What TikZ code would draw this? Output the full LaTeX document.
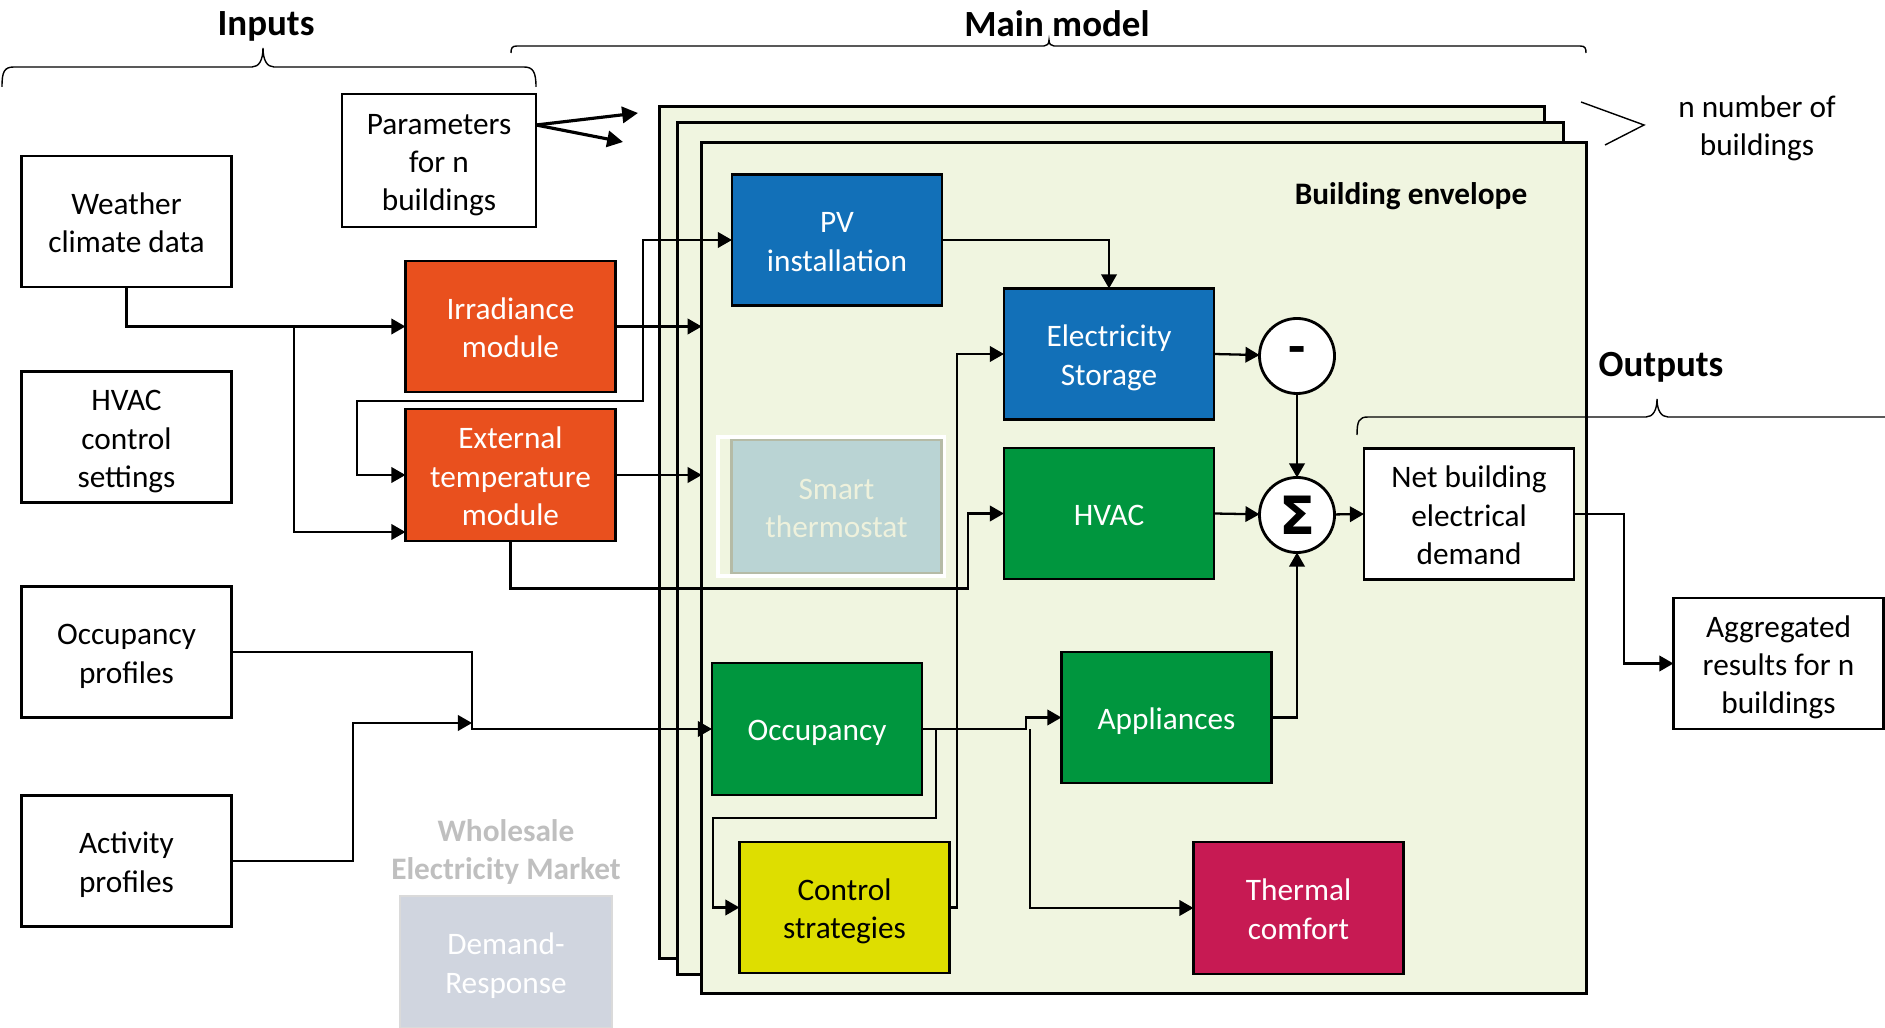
\documentclass[tikz,border=0pt]{standalone}
\usepackage{fontspec}
\setmainfont{Carlito}
\newfontfamily\dejavu{DejaVu Sans}
\usetikzlibrary{arrows.meta,calc}
\definecolor{corange}{RGB}{233,80,30}
\definecolor{cblue}{RGB}{18,112,184}
\definecolor{cgreen}{RGB}{0,150,62}
\definecolor{cyellow}{RGB}{222,222,0}
\definecolor{ccrimson}{RGB}{199,26,83}
\definecolor{cframe}{RGB}{240,245,224}
\definecolor{cthermo}{RGB}{186,212,212}
\definecolor{cthermob}{RGB}{181,187,166}
\definecolor{cthermot}{RGB}{238,241,220}
\definecolor{cdr}{RGB}{208,213,223}
\definecolor{cdrb}{RGB}{218,218,218}
\definecolor{cgraytext}{RGB}{191,191,191}
\newcommand{\bodyfont}{\fontsize{8.9}{10.9}\selectfont}
\newcommand{\titlefont}{\fontsize{10.5}{12}\selectfont\bfseries}
\newcommand{\lastlinestrut}{\rule[-2.4pt]{0pt}{2.4pt}}
\newcommand{\onelinestrut}{\rule[-2.4pt]{0pt}{11.4pt}}
\newcommand{\fs}{\rule{0pt}{9.3pt}}
\begin{document}
\begin{tikzpicture}[x=0.01cm,y=-0.01cm,
  boxbase/.style={draw, line width=0.8pt, minimum width=2.1cm, minimum height=1.31cm,
    align=center, inner sep=1pt, outer sep=0pt, font=\bodyfont},
  box/.style={boxbase, execute at end node=\lastlinestrut},
  boxone/.style={boxbase, execute at begin node=\onelinestrut},
  frame/.style={draw, line width=0.8pt, fill=cframe, inner sep=0pt, outer sep=0pt},
  circ/.style={circle, draw, line width=0.8pt, fill=white, minimum size=0.75cm,
    inner sep=0pt, outer sep=0pt},
  conn/.style={draw, line width=0.65pt, -{Triangle[length=4pt,width=4.4pt]}},
  parr/.style={draw, line width=0.9pt, -{Triangle[length=4.5pt,width=4.6pt]}},
  bracepath/.style={draw, line width=0.4pt},
  title/.style={font=\titlefont, anchor=base}]
\useasboundingbox (0,0) rectangle (1885,1028);

% titles and braces
\node[title] (tin) at (266,36) {Inputs};
\node[title] (tmain) at (1057,37) {Main model};
\node[title] (tout) at (1661,377) {Outputs};
\draw[bracepath] (2,87) .. controls (2,72) and (4,67) .. (14,67) -- (252,67)
  .. controls (259,67) and (263,60) .. (263,48) .. controls (263,60) and (267,67) .. (274,67)
  -- (524,67) .. controls (533,67) and (536,72) .. (536,87);
\draw[bracepath] (511,53) .. controls (511,48) and (512,46) .. (517,46) -- (1044,46)
  .. controls (1047,46) and (1049,44) .. (1049,40) .. controls (1049,44) and (1051,46) .. (1054,46)
  -- (1580,46) .. controls (1585,46) and (1586,48) .. (1586,53);

% n number of buildings
\node[font=\bodyfont, align=center] (nnum) at (1757,128) {n number of\\buildings};
\coordinate (ch1) at (1581,102);
\coordinate (ch2) at (1644,125);
\coordinate (ch3) at (1605,145);
\draw[line width=0.4pt] (ch1) -- (ch2) -- (ch3);

% input boxes
\node[box] (weather) at (126.5,221.5) {\fs Weather\\climate data};
\node[box] (hvacset) at (126.5,437) {\fs HVAC\\control\\settings};
\node[box] (occprof) at (126.5,652) {\fs Occupancy\\profiles};
\node[box] (actprof) at (126.5,861) {\fs Activity\\profiles};
\node[box, minimum width=1.94cm, minimum height=1.33cm] (params) at (439,160.5) {\fs Parameters\\for n\\buildings};
\node[box, fill=corange, text=white] (irr) at (510.5,326.5) {\fs Irradiance\\module};
\node[box, fill=corange, text=white, minimum height=1.32cm] (ext) at (510.5,475) {\fs External\\temperature\\module};

% wholesale / demand response
\node[font=\bodyfont\bfseries, text=cgraytext, align=center] (wholesale) at (506,852) {Wholesale\\Electricity Market};
\node[box, fill=cdr, draw=cdrb, text=white, minimum width=2.12cm, minimum height=1.32cm] (demand) at (506,962) {\fs Demand-\\Response};

% building frames
\node[frame, minimum width=8.84cm, minimum height=8.51cm] (backf) at (1102,532.5) {};
\node[frame, minimum width=8.85cm, minimum height=8.51cm] (midf) at (1120.5,548.5) {};
\node[frame, minimum width=8.84cm, minimum height=8.50cm] (frontf) at (1144,568) {};
\node[font=\bodyfont\bfseries, anchor=base] (benv) at (1411,205) {Building envelope};

% outputs brace (drawn over the frame)
\draw[bracepath] (1357,435) .. controls (1357,421) and (1359,417) .. (1368,417) -- (1646,417)
  .. controls (1653,417) and (1657,410) .. (1657,399) .. controls (1657,410) and (1661,417) .. (1668,417)
  -- (1890,417);

% inner modules
\node[box, fill=cblue, text=white] (pv) at (837,240) {\fs PV\\installation};
\node[box, fill=cblue, text=white] (stor) at (1109,354) {\fs Electricity\\Storage};
\node[boxone, fill=cgreen, text=white] (hvac) at (1109,513.5) {HVAC};
\node[circ] (minus) at (1297,356) {\bfseries\fontsize{16}{16}\selectfont -};
\node[circ] (sigma) at (1297,515) {\dejavu\bfseries\fontsize{15}{15}\selectfont Σ};
\node[box, fill=white] (net) at (1469,514) {\fs Net building\\electrical\\demand};
\node[box, fill=white] (agg) at (1778.5,663.5) {\fs Aggregated\\results for n\\buildings};
\draw[white, line width=1pt] (718,437) rectangle (944,576);
\node[box, fill=cthermo, draw=cthermob, text=cthermot, minimum height=1.33cm] (smart) at (836.5,506.5) {\fs Smart\\thermostat};
\node[boxone, fill=cgreen, text=white, minimum height=1.32cm] (occ) at (817,729) {Occupancy};
\node[box, fill=cyellow] (ctrl) at (844.5,907.5) {\fs Control\\strategies};
\node[boxone, fill=cgreen, text=white] (appl) at (1166.5,717.5) {Appliances};
\node[box, fill=ccrimson, text=white, minimum height=1.32cm] (therm) at (1298.5,908) {\fs Thermal\\comfort};

% parameter arrows
\coordinate (ps) at (params.east |- 0,125);
\coordinate (pa1) at (638,113);
\coordinate (pa2) at (623,142);
\draw[parr] (ps) -- (pa1);
\draw[parr] (ps) -- (pa2);

% connectors
\coordinate (j1) at (294,326.5);
\coordinate (c1) at (294,532);
\draw[conn] (weather.south) |- (irr.west);
\draw[conn] (j1) -- (c1) -- (c1 -| ext.west);
\draw[conn] (irr.east) -- (irr.east -| frontf.west);
\coordinate (j2) at (643,326.5);
\coordinate (c2) at (357,401);
\draw[conn] (j2) |- (pv.west);
\draw[conn] (j2) |- (c2) |- (ext.west);
\draw[conn] (ext.east) -- (ext.east -| frontf.west);
\coordinate (c3) at (968,588.5);
\draw[conn] (ext.south) |- (c3) |- (hvac.west);
\coordinate (c4) at (957,907.5);
\draw[conn] (ctrl.east) -- (c4) |- (stor.west);
\draw[conn] (pv.east) -| (stor.north);
\draw[conn] (stor.east) -- (minus);
\draw[conn] (minus) -- (sigma);
\draw[conn] (hvac.east) -- (sigma);
\draw[conn] (sigma) -- (net.west);
\draw[conn] (appl.east) -| (sigma.south);
\coordinate (c5) at (1624,514);
\draw[conn] (net.east) -- (c5) |- (agg.west);
\coordinate (c6) at (472,729);
\draw[conn] (occprof.east) -| (c6) -- (occ.west);
\coordinate (c7) at (353,723);
\coordinate (c8) at (472,723);
\draw[conn] (actprof.east) -| (c7) -- (c8);
\coordinate (c9) at (1026,729);
\draw[conn] (occ.east) -- (c9) |- (appl.west);
\coordinate (c10) at (1030,729);
\draw[conn] (c10) |- (therm.west);
\coordinate (c11) at (936,729);
\coordinate (c12) at (713,818);
\draw[conn] (c11) |- (c12) |- (ctrl.west);
\end{tikzpicture}
\end{document}
